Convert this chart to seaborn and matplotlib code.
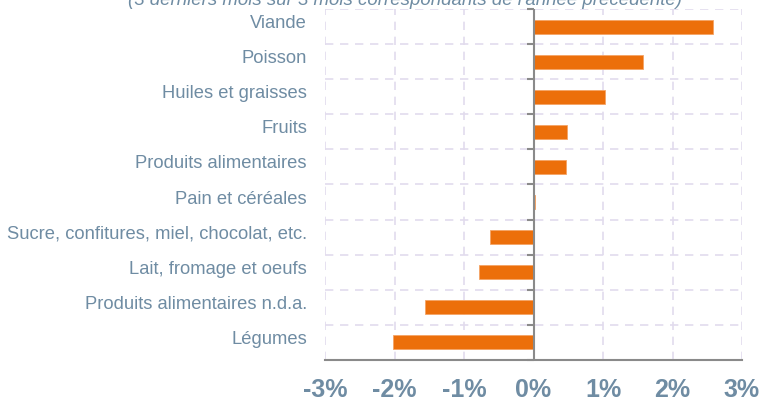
import numpy as np
import pandas as pd
import matplotlib
matplotlib.use("Agg")
import matplotlib.pyplot as plt
import matplotlib.transforms as mtrans
import seaborn as sns

categories = ["Viande", "Poisson", "Huiles et graisses", "Fruits",
              "Produits alimentaires", "Pain et céréales",
              "Sucre, confitures, miel, chocolat, etc.",
              "Lait, fromage et oeufs", "Produits alimentaires n.d.a.",
              "Légumes"]
values = [2.58, 1.58, 1.03, 0.48, 0.47, 0.02, -0.63, -0.79, -1.56, -2.02]
x_ticks = [-3, -2, -1, 0, 1, 2, 3]
subtitle = "(3 derniers mois sur 3 mois correspondants de l'année précédente)"

sns.set_style("white")
plt.rcParams["font.family"] = ["Liberation Sans", "DejaVu Sans"]

label_col = "#6f8ca3"
grid_col = "#e2dced"
axis_col = "#8a8a8a"
bar_col = "#ec6f0b"

df = pd.DataFrame({"cat": categories, "val": values})

fig = plt.figure(figsize=(7.63, 4.03), dpi=100)
ax = fig.add_axes([0.426, 0.1067, 0.5465, 0.871])

sns.barplot(data=df, x="val", y="cat", orient="h", color=bar_col,
            width=0.4, saturation=1, edgecolor="#f4a466", linewidth=0.6, ax=ax)

n = len(categories)
ax.set_xlim(-3, 3)
ax.set_ylim(n - 0.5, -0.5)
bounds = np.arange(n + 1) - 0.5

ax.set_xticks(x_ticks)
ax.set_xticklabels([f"{t}%" for t in x_ticks])
ax.set_yticks(range(n))
ax.set_yticks(bounds, minor=True)

ax.grid(False)
ax.xaxis.grid(True, which="major", color=grid_col, linestyle=(0, (5, 4)), linewidth=1.2)
ax.yaxis.grid(True, which="minor", color=grid_col, linestyle=(0, (5, 4)), linewidth=1.2)
ax.set_axisbelow(True)

for s in ["top", "right", "left"]:
    ax.spines[s].set_visible(False)
ax.spines["bottom"].set_color(axis_col)
ax.spines["bottom"].set_linewidth(1.5)

ax.tick_params(axis="x", which="major", direction="out", length=6, width=1.5,
               color=axis_col, labelsize=18, labelcolor=label_col, pad=7)
for lbl in ax.get_xticklabels():
    lbl.set_fontweight("bold")
ax.tick_params(axis="y", which="both", length=0, labelsize=13.2,
               labelcolor=label_col, pad=13)

# labels sit a little above the bar centres
shift = mtrans.ScaledTranslation(0, 5 / 100, fig.dpi_scale_trans)
for lbl in ax.get_yticklabels():
    lbl.set_transform(lbl.get_transform() + shift)

# category axis crossing at 0 with boundary ticks
ax.axvline(0, color=axis_col, linewidth=1.5, zorder=3)
ax.plot(np.zeros(n + 1), bounds, linestyle="none", marker=0, markersize=5,
        markeredgewidth=1.5, color=axis_col, zorder=3, clip_on=False)

ax.set_xlabel("")
ax.set_ylabel("")

fig.text(0.531, 1 - 5 / 403, subtitle, ha="center", va="baseline",
         fontsize=13.4, style="italic", color=label_col)

fig.savefig("out.png", dpi=100)
